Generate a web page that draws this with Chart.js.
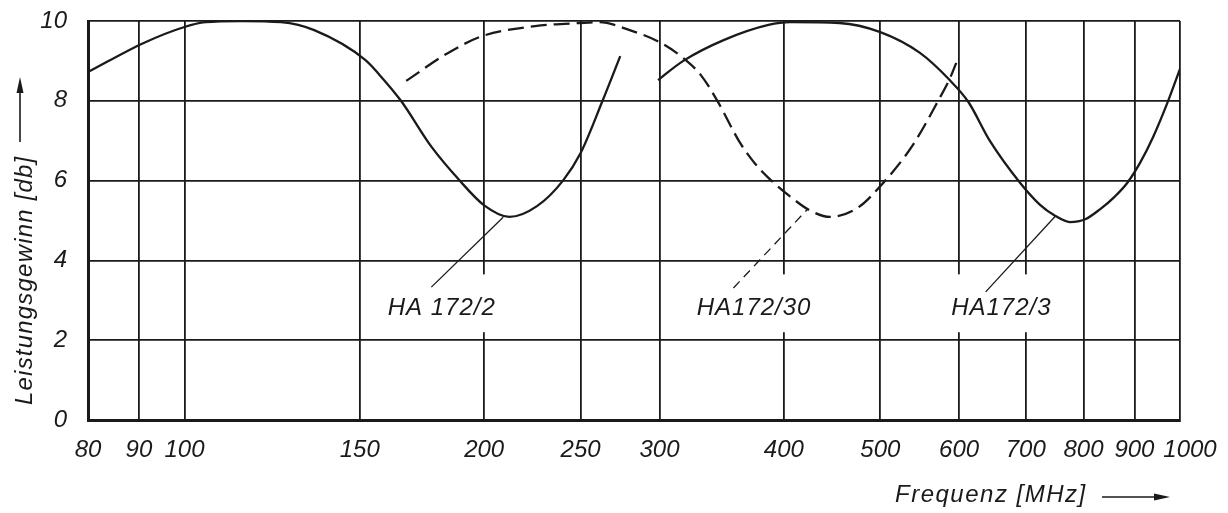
<!DOCTYPE html>
<html>
<head>
<meta charset="utf-8">
<script src="https://cdn.jsdelivr.net/npm/chart.js@4"></script>
<style>
  html, body { margin: 0; padding: 0; background: #fff; }
  #wrap { width: 1228px; height: 513px; position: relative; }
</style>
</head>
<body>
<div id="wrap"><canvas id="gainChart"></canvas></div>
<script>
// Frequency axis ticks (MHz) and gain axis range (dB)
const xTickValues = [80, 90, 100, 150, 200, 250, 300, 400, 500, 600, 700, 800, 900, 1000];
const gainMin = 0;
const gainMax = 10;
const gainStep = 2;

// HA 172/2 (solid)
const freqHA2 = [80, 91, 100, 105, 114, 125, 135, 152, 157, 165, 177, 189, 200, 212, 226, 240, 250, 263, 274];
const gainHA2 = [8.72, 9.45, 9.85, 9.97, 10.0, 9.97, 9.77, 9.02, 8.65, 8.0, 6.85, 6.0, 5.38, 5.09, 5.36, 6.0, 6.69, 8.0, 9.12];

// HA 172/30 (dashed)
const freqHA30 = [167, 184, 199, 225, 250, 261, 280, 300, 317, 330, 343, 361, 373, 386, 406, 425, 445, 474, 502, 539, 573, 587, 596];
const gainHA30 = [8.5, 9.2, 9.62, 9.87, 9.95, 9.97, 9.77, 9.47, 9.07, 8.65, 8.0, 6.97, 6.47, 6.07, 5.6, 5.25, 5.09, 5.31, 5.91, 6.89, 8.05, 8.55, 8.95];

// HA 172/3 (solid)
const freqHA3 = [299, 317, 348, 386, 406, 455, 500, 548, 587, 613, 644, 691, 723, 749, 775, 803, 831, 860, 885, 912, 940, 971, 1000];
const gainHA3 = [8.52, 9.0, 9.52, 9.9, 9.97, 9.95, 9.72, 9.2, 8.52, 7.97, 7.0, 5.94, 5.4, 5.12, 4.96, 5.03, 5.28, 5.6, 5.94, 6.45, 7.1, 7.94, 8.8];

// leader lines from the labels to the curves
const leaderHA2Freq = [177, 209];
const leaderHA2Gain = [3.33, 5.08];
const leaderHA30Freq = [356, 422];
const leaderHA30Gain = [3.31, 5.27];
const leaderHA3Freq = [638, 749];
const leaderHA3Gain = [3.21, 5.1];

// curve labels, anchored at their left edge
const labelTexts = ['HA 172/2', 'HA172/30', 'HA172/3'];
const labelFreq = [160, 327, 589];
const labelGain = [2.8, 2.8, 2.8];
const labelBoxGain = [3.65, 2.2];

const ink = '#1a1a1a';
const fontFamily = '"Liberation Sans", Arial, sans-serif';

function points(xs, ys) {
    return xs.map((x, i) => ({ x: x, y: ys[i] }));
}

function curve(label, xs, ys, dash, width) {
    return {
        label: label,
        data: points(xs, ys),
        borderColor: ink,
        borderWidth: width,
        borderDash: dash,
        pointRadius: 0,
        fill: false,
        cubicInterpolationMode: 'monotone'
    };
}

function arrow(ctx, x1, y1, x2, y2) {
    const ang = Math.atan2(y2 - y1, x2 - x1);
    ctx.beginPath();
    ctx.moveTo(x1, y1);
    ctx.lineTo(x2 - 10 * Math.cos(ang), y2 - 10 * Math.sin(ang));
    ctx.stroke();
    ctx.beginPath();
    ctx.moveTo(x2, y2);
    ctx.lineTo(x2 - 16 * Math.cos(ang) + 3.5 * Math.sin(ang), y2 - 16 * Math.sin(ang) - 3.5 * Math.cos(ang));
    ctx.lineTo(x2 - 16 * Math.cos(ang) - 3.5 * Math.sin(ang), y2 - 16 * Math.sin(ang) + 3.5 * Math.cos(ang));
    ctx.closePath();
    ctx.fill();
}

const labelFont = 'italic 24px ' + fontFamily;

// white patches behind the curve labels, then the labels themselves
const curveLabels = {
    id: 'curveLabels',
    beforeDatasetsDraw(chart) {
        const ctx = chart.ctx;
        const xs = chart.scales.x, ys = chart.scales.y;
        ctx.save();
        ctx.font = labelFont;
        ctx.letterSpacing = '1px';
        ctx.fillStyle = '#fff';
        labelTexts.forEach((t, i) => {
            const x = xs.getPixelForValue(labelFreq[i]);
            const w = ctx.measureText(t).width;
            const top = ys.getPixelForValue(labelBoxGain[0]);
            const bottom = ys.getPixelForValue(labelBoxGain[1]);
            ctx.fillRect(x - 8, top, w + 16, bottom - top);
        });
        ctx.restore();
    },
    afterDatasetsDraw(chart) {
        const ctx = chart.ctx;
        const xs = chart.scales.x, ys = chart.scales.y;
        ctx.save();
        ctx.font = labelFont;
        ctx.letterSpacing = '1px';
        ctx.fillStyle = ink;
        ctx.textAlign = 'left';
        ctx.textBaseline = 'middle';
        labelTexts.forEach((t, i) => {
            ctx.fillText(t, xs.getPixelForValue(labelFreq[i]), ys.getPixelForValue(labelGain[i]));
        });
        ctx.restore();
    }
};

// axis titles with their arrows
const axisTitles = {
    id: 'axisTitles',
    afterDraw(chart) {
        const ctx = chart.ctx;
        ctx.save();
        ctx.fillStyle = ink;
        ctx.strokeStyle = ink;
        ctx.lineWidth = 1.6;
        ctx.font = 'italic 24px ' + fontFamily;
        ctx.letterSpacing = '1.2px';
        ctx.textBaseline = 'middle';
        ctx.textAlign = 'left';

        ctx.save();
        ctx.translate(25, 405);
        ctx.rotate(-Math.PI / 2);
        ctx.fillText('Leistungsgewinn [db]', 0, 0);
        ctx.restore();
        arrow(ctx, 20, 142, 20, 77);

        ctx.letterSpacing = '1.5px';
        ctx.fillText('Frequenz [MHz]', 895, 495);
        arrow(ctx, 1102, 497, 1170, 497);
        ctx.restore();
    }
};

new Chart(document.getElementById('gainChart'), {
    type: 'line',
    data: {
        datasets: [
            curve('HA 172/2', freqHA2, gainHA2, [], 2.3),
            curve('HA172/30', freqHA30, gainHA30, [16, 7], 2.3),
            curve('HA172/3', freqHA3, gainHA3, [], 2.3),
            curve('leader 172/2', leaderHA2Freq, leaderHA2Gain, [], 1.3),
            curve('leader 172/30', leaderHA30Freq, leaderHA30Gain, [9, 6], 1.3),
            curve('leader 172/3', leaderHA3Freq, leaderHA3Gain, [], 1.3)
        ]
    },
    options: {
        responsive: true,
        maintainAspectRatio: false,
        animation: false,
        layout: { padding: { top: 21, right: 48, left: 0, bottom: 0 } },
        plugins: {
            legend: { display: false },
            tooltip: { enabled: false }
        },
        scales: {
            x: {
                type: 'logarithmic',
                min: 80,
                max: 1000,
                afterBuildTicks: scale => {
                    scale.ticks = xTickValues.map(v => ({ value: v }));
                },
                afterFit: scale => {
                    scale.height = 93;
                    scale.paddingLeft = 0;
                    scale.paddingRight = 0;
                },
                ticks: {
                    autoSkip: false,
                    maxRotation: 0,
                    padding: 16,
                    color: ink,
                    font: { family: fontFamily, size: 24, style: 'italic' },
                    // the last label sits a little right of its grid line
                    callback: v => (v === 1000 ? '   1000' : String(v))
                },
                grid: { color: ink, lineWidth: 1.8, drawTicks: false },
                border: { display: true, color: ink, width: 3 }
            },
            y: {
                min: gainMin,
                max: gainMax,
                afterFit: scale => {
                    scale.width = 88;
                    scale.paddingTop = 0;
                    scale.paddingBottom = 0;
                },
                ticks: {
                    stepSize: gainStep,
                    padding: 21,
                    color: ink,
                    font: { family: fontFamily, size: 24, style: 'italic' }
                },
                grid: { color: ink, lineWidth: 1.8, drawTicks: false },
                border: { display: true, color: ink, width: 3 }
            }
        }
    },
    plugins: [curveLabels, axisTitles]
});
</script>
</body>
</html>
